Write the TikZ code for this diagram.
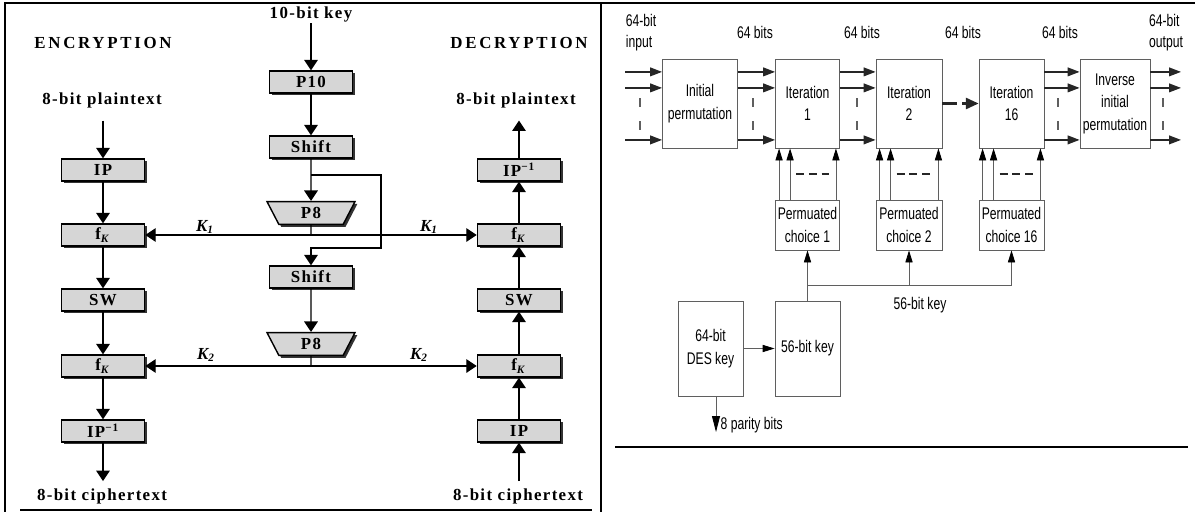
\documentclass[tikz,border=0pt]{standalone}
\usepackage{fontspec}
\setmainfont{Liberation Serif}
\newfontfamily\encfont[LetterSpace=8]{Liberation Serif}
\newfontfamily\hdrfont[LetterSpace=16]{Liberation Serif}
\newfontfamily\desfont[FakeStretch=0.72]{Liberation Sans}
\usepackage{tikz}
\usetikzlibrary{shapes.geometric, arrows.meta, positioning, calc, shadows}
\definecolor{cBox}{RGB}{214,214,214}
\definecolor{cLine}{RGB}{95,95,95}
\tikzset{
	kbox/.style  ={rectangle, draw=black, line width=1pt, fill=cBox, minimum width=2.08cm, minimum height=0.55cm, inner sep=0pt, font=\encfont\bfseries\fontsize{12}{14}\selectfont, drop shadow={shadow xshift=0.6mm, shadow yshift=-0.6mm, fill=black!80, opacity=1}},
	pbox/.style  ={trapezium, trapezium left angle=72, trapezium right angle=72, shape border rotate=180, trapezium stretches=true, draw=black, line width=1pt, fill=cBox, minimum width=2.2cm, minimum height=0.57cm, inner sep=0pt, font=\encfont\bfseries\fontsize{12}{14}\selectfont, drop shadow={shadow xshift=0.6mm, shadow yshift=-0.6mm, fill=black!80, opacity=1}},
	lbl/.style   ={font=\encfont\bfseries\fontsize{12}{14}\selectfont, inner sep=1pt},
	hdr/.style   ={font=\hdrfont\bfseries\fontsize{12}{14}\selectfont, inner sep=1pt},
	klbl/.style  ={font=\bfseries\itshape\fontsize{12}{14}\selectfont, inner sep=1pt},
	flow/.style  ={-{Triangle[length=2.6mm, width=3.4mm]}, line width=1pt},
	keyln/.style ={line width=1pt},
	% DES block diagram styles
	dbox/.style  ={rectangle, draw=cLine, line width=0.6pt, align=center, inner sep=1pt, font=\desfont\fontsize{12}{16}\selectfont},
	dtxt/.style  ={font=\desfont\fontsize{12}{15}\selectfont, inner sep=1pt},
	bus/.style   ={-{Triangle[length=3mm, width=2.2mm]}, line width=1pt, black!85},
	tap/.style   ={-{Triangle[length=3mm, width=1.8mm, color=black]}, line width=0.6pt, cLine},
	dotsln/.style={line width=2pt, dash pattern=on 2mm off 1.2mm, black!85},
}
\begin{document}
\begin{tikzpicture}[x=0.025cm, y=-0.025cm]
\useasboundingbox (0,0) rectangle (1195,512);
% frames
\draw[line width=0.8pt] (5,512) -- (5,3) -- (1195,3);
\draw[line width=0.8pt] (601,3) -- (601,512);
\draw[line width=2pt] (20,510) -- (592,510);
\draw[line width=2pt] (615,447) -- (1188,447);

% key generation
\node[lbl] (key) at (311,14) {10-bit key};
\node[kbox] (p10) at (311,82) {P10};
\node[kbox] (sh1) at (311,147) {Shift};
\node[pbox] (p81) at (311,213) {P8};
\node[kbox] (sh2) at (311,277) {Shift};
\node[pbox] (p82) at (311,344) {P8};
\coordinate (br) at (311,175);
\coordinate (lp) at (381,248);
\coordinate (k1) at (311,235);
\coordinate (k2) at (311,366);

% encryption
\node[hdr] (enc) at (103,43) {ENCRYPTION};
\node[lbl] (pt1) at (102,100) {8-bit plaintext};
\node[kbox] (ip1) at (103,170) {IP};
\node[kbox] (fk1) at (103,235) {f\textsubscript{\textit{K}}};
\node[kbox] (sw1) at (103,300) {SW};
\node[kbox] (fk2) at (103,366) {f\textsubscript{\textit{K}}};
\node[kbox] (ipi1) at (103,431) {IP\textsuperscript{−1}};
\node[lbl] (ct1) at (102,496) {8-bit ciphertext};

% decryption
\node[hdr] (dec) at (519,43) {DECRYPTION};
\node[lbl] (pt2) at (516,100) {8-bit plaintext};
\node[kbox] (ipi2) at (519,170) {IP\textsuperscript{−1}};
\node[kbox] (fk3) at (519,235) {f\textsubscript{\textit{K}}};
\node[kbox] (sw2) at (519,300) {SW};
\node[kbox] (fk4) at (519,366) {f\textsubscript{\textit{K}}};
\node[kbox] (ip2) at (519,431) {IP};
\node[lbl] (ct2) at (518,496) {8-bit ciphertext};

\node[klbl] (k1e) at (205,227) {K\textsubscript{1}};
\node[klbl] (k1d) at (429,227) {K\textsubscript{1}};
\node[klbl] (k2e) at (206,355) {K\textsubscript{2}};
\node[klbl] (k2d) at (419,355) {K\textsubscript{2}};

\draw[flow] (key) -- (p10);
\draw[flow] (p10) -- (sh1);
\draw[flow] (sh1) -- (p81);
\draw[flow] (br) -| (lp) -| (sh2.north);
\draw[keyln] (p81) -- (k1);
\draw[flow] (k1) -- (fk1);
\draw[flow] (k1) -- (fk3);
\draw[flow] (sh2) -- (p82);
\draw[keyln] (p82) -- (k2);
\draw[flow] (k2) -- (fk2);
\draw[flow] (k2) -- (fk4);

\draw[flow] ([yshift=-8pt]ip1.north |- pt1.south) -- (ip1.north);
\draw[flow] (ip1) -- (fk1);
\draw[flow] (fk1) -- (sw1);
\draw[flow] (sw1) -- (fk2);
\draw[flow] (fk2) -- (ipi1);
\draw[flow] (ipi1.south) -- ([yshift=4pt]ipi1.south |- ct1.north);

\draw[flow] ([yshift=4pt]ip2.south |- ct2.north) -- (ip2.south);
\draw[flow] (ip2) -- (fk4);
\draw[flow] (fk4) -- (sw2);
\draw[flow] (sw2) -- (fk3);
\draw[flow] (fk3) -- (ipi2);
\draw[flow] (ipi2.north) -- ([yshift=-8pt]ipi2.north |- pt2.south);

% DES
\node[dbox, minimum width=1.875cm, minimum height=2.225cm] (ip) at (700,103.5) {Initial\\permutation};
\node[dbox, minimum width=1.6cm, minimum height=2.225cm] (it1) at (807.5,103.5) {Iteration\\1};
\node[dbox, minimum width=1.65cm, minimum height=2.225cm] (it2) at (909,103.5) {Iteration\\2};
\node[dbox, minimum width=1.625cm, minimum height=2.225cm] (it16) at (1011.5,103.5) {Iteration\\16};
\node[dbox, minimum width=1.75cm, minimum height=2.225cm] (iip) at (1115,103.5) {Inverse\\initial\\permutation};
\node[dbox, minimum width=1.6cm, minimum height=1.25cm] (pc1) at (807.5,225) {Permuated\\choice 1};
\node[dbox, minimum width=1.65cm, minimum height=1.25cm] (pc2) at (909,225) {Permuated\\choice 2};
\node[dbox, minimum width=1.625cm, minimum height=1.25cm] (pc16) at (1011.5,225) {Permuated\\choice 16};
\node[dbox, minimum width=1.625cm, minimum height=2.375cm] (des) at (710.5,348.5) {64-bit\\DES key};
\node[dbox, minimum width=1.625cm, minimum height=2.375cm] (k56) at (807.5,348.5) {56-bit key};

\node[dtxt, align=left] (inlbl) at (641,33) {64-bit\\input};
\node[dtxt, align=left] (outlbl) at (1166,33) {64-bit\\output};
\node[dtxt] (b1) at (755,32) {64 bits};
\node[dtxt] (b2) at (862,32) {64 bits};
\node[dtxt] (b3) at (963,32) {64 bits};
\node[dtxt] (b4) at (1060,32) {64 bits};
\node[dtxt] (klbl) at (920,305) {56-bit key};
\node[dtxt, anchor=west] (par) at (719,425) {8 parity bits};

\coordinate (inp) at (625,103.5);
\coordinate (outp) at (1181,103.5);
\coordinate (kb) at (807.5,285);
\coordinate (pb) at (716,432);

\foreach \s in {0.79, 0.39, -0.91} {
	\draw[bus] ([yshift=\s cm]inp) -- ([yshift=\s cm]ip.west);
	\draw[bus] ([yshift=\s cm]iip.east) -- ([yshift=\s cm]outp);
}
\foreach \a/\b in {ip/it1, it1/it2, it16/iip}
	\foreach \s in {0.79, 0.39, -0.91}
		\draw[bus] ([yshift=\s cm]\a.east) -- ([yshift=\s cm]\b.west);
\draw[bus, line width=1.6pt, dash pattern=on 3.75mm off 1.25mm, -{Triangle[length=3.2mm, width=2.8mm]}] (it2) -- (it16);
\foreach \x in {640, 753, 857, 1058, 1163} {
	\draw[cLine, line width=0.8pt] (\x,98) -- (\x,107);
	\draw[cLine, line width=0.8pt] (\x,121) -- (\x,130);
}

\foreach \p/\q in {pc1/it1, pc2/it2, pc16/it16} {
	\draw[tap] ([xshift=0.1cm]\p.north west) -- ([xshift=0.1cm]\q.south west);
	\draw[tap] ([xshift=0.375cm]\p.north west) -- ([xshift=0.375cm]\q.south west);
	\draw[tap] ([xshift=-0.1cm]\p.north east) -- ([xshift=-0.1cm]\q.south east);
	\draw[dotsln] ($(\p.north west)!0.5!(\q.south west) + (21,0)$) -- ++(33,0);
}

\draw[tap] (k56) -- (pc1);
\draw[tap] (kb) -| (pc16.south);
\draw[tap] (pc2.south |- kb) -- (pc2.south);
\draw[tap] (des) -- (k56);
\draw[tap, -{Triangle[length=4mm, width=2mm, color=black]}] (des.south -| pb) -- (pb);
\end{tikzpicture}
\end{document}
